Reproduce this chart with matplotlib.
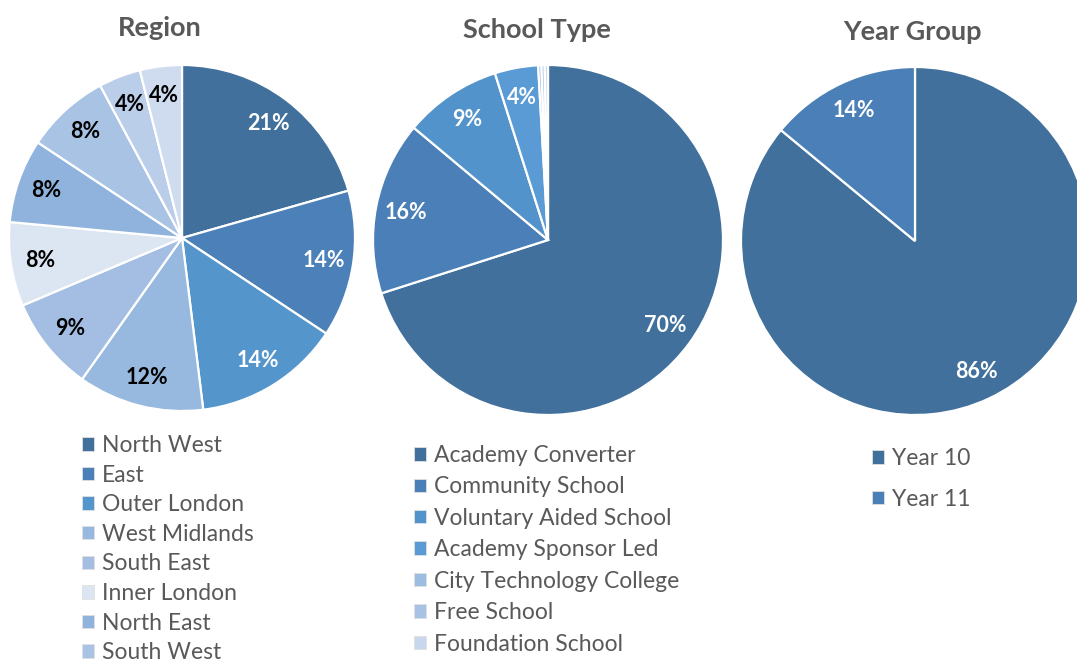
import matplotlib.pyplot as plt
import numpy as np

plt.rcParams['font.family'] = ['Lato', 'DejaVu Sans']

# data
region_names = ['North West', 'East', 'Outer London', 'West Midlands', 'South East',
                'Inner London', 'North East', 'South West']
region_vals = [21, 14, 14, 12, 9, 8, 8, 8, 4, 4]
region_cols = ['#41709C', '#4B81B8', '#5495CC', '#97B9DF', '#A3BEE2',
               '#DCE6F3', '#8FB3DC', '#A9C3E5', '#BACDE9', '#CFDCF0']
region_txt = ['white', 'white', 'white'] + ['black'] * 7

school_names = ['Academy Converter', 'Community School', 'Voluntary Aided School',
                'Academy Sponsor Led', 'City Technology College', 'Free School',
                'Foundation School']
school_vals = [70, 16, 9, 4, 0.3, 0.3, 0.3]
school_cols = ['#41709C', '#4A80B7', '#5393CB', '#5A9BD5', '#9DBCE1', '#A7C2E4', '#C7D7EE']

year_names = ['Year 10', 'Year 11']
year_vals = [86, 14]
year_cols = ['#41709C', '#4A80B7']

W, H = 1077, 662
fig = plt.figure(figsize=(W / 100, H / 100), dpi=100)
grey = '#595959'


def draw_pie(cx, cy, r, vals, cols, txtcols, title, tx, ty):
    ax = fig.add_axes([(cx - r) / W, 1 - (cy + r) / H, 2 * r / W, 2 * r / H])
    wedges, _ = ax.pie(vals, colors=cols, startangle=90, counterclock=False,
                       wedgeprops=dict(edgecolor='white', linewidth=1.6))
    ax.set_xlim(-1, 1)
    ax.set_ylim(-1, 1)
    for w, v, c in zip(wedges, vals, txtcols):
        if v < 1:
            continue
        a = np.deg2rad((w.theta1 + w.theta2) / 2)
        ax.text(0.83 * np.cos(a), 0.83 * np.sin(a), f'{v:.0f}%', ha='center', va='center',
                fontsize=15.5, fontweight='bold', color=c)
    fig.text(tx / W, 1 - ty / H, title, ha='center', va='center', fontsize=19.5,
             fontweight='bold', color=grey)
    return wedges


w1 = draw_pie(182, 238, 173, region_vals, region_cols, region_txt, 'Region', 160, 28)
w2 = draw_pie(548, 240, 175, school_vals, school_cols, ['white'] * 7, 'School Type', 537, 30)
w3 = draw_pie(915, 241, 174, year_vals, year_cols, ['white'] * 2, 'Year Group', 912, 32)


def draw_legend(handles, names, x, y, spacing):
    leg = fig.legend(handles, names, loc='upper left', bbox_to_anchor=(x / W, 1 - y / H),
                     frameon=False, fontsize=16.5, labelcolor=grey, handlelength=0.52,
                     handleheight=0.52, handletextpad=0.35, labelspacing=spacing,
                     borderpad=0, borderaxespad=0)
    for h in leg.legend_handles:
        h.set_edgecolor('#E0E0E0')
        h.set_linewidth(0.6)


draw_legend(w1[:8], region_names, 82, 435, 0.375)
draw_legend(w2, school_names, 414, 445, 0.455)
draw_legend(w3, year_names, 872, 448, 0.86)

fig.savefig('out.png', dpi=100)
